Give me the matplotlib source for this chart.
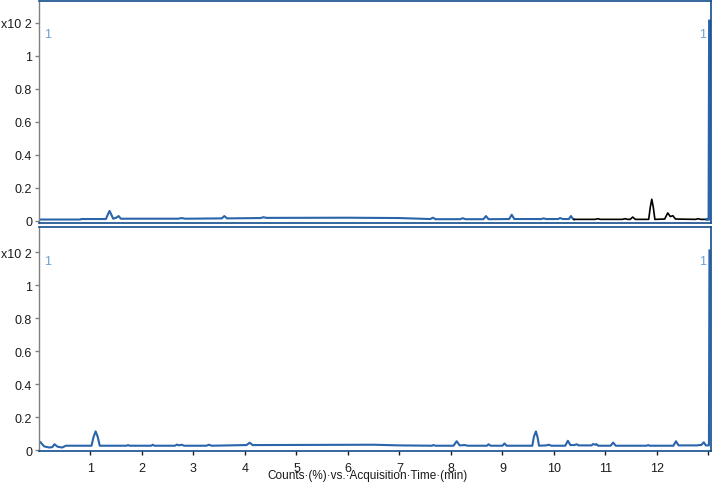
import matplotlib.pyplot as plt

plt.rcParams['font.family'] = ['Liberation Sans', 'DejaVu Sans']

# top trace, blue part (time in min, counts x10^2)
top_t = [0.00, 0.80, 0.82, 1.30, 1.34, 1.37, 1.40, 1.44, 1.50, 1.545, 1.59,
         2.70, 2.77, 2.84, 3.55, 3.60, 3.65, 4.30, 4.36, 4.42, 6.00, 7.00,
         7.60, 7.65, 7.70, 8.18, 8.23, 8.28, 8.63, 8.68, 8.73, 9.13, 9.18,
         9.23, 9.75, 9.80, 9.85, 10.08, 10.12, 10.17, 10.29, 10.33, 10.37, 10.39]
top_v = [0.007, 0.007, 0.010, 0.010, 0.040, 0.059, 0.040, 0.012, 0.018, 0.028, 0.012,
         0.012, 0.016, 0.012, 0.014, 0.028, 0.014, 0.016, 0.021, 0.017, 0.018, 0.016,
         0.010, 0.018, 0.009, 0.009, 0.015, 0.009, 0.009, 0.028, 0.009, 0.010, 0.036,
         0.010, 0.010, 0.014, 0.010, 0.010, 0.016, 0.010, 0.010, 0.028, 0.010, 0.008]

# top trace, black part
blk_t = [10.39, 10.80, 10.85, 10.90, 11.33, 11.38, 11.43, 11.48, 11.53, 11.58,
         11.84, 11.87, 11.90, 11.93, 11.96, 12.15, 12.21, 12.26, 12.31, 12.36,
         12.75, 12.80, 12.85, 12.97]
blk_v = [0.008, 0.008, 0.012, 0.008, 0.008, 0.012, 0.008, 0.008, 0.022, 0.008,
         0.008, 0.080, 0.130, 0.080, 0.008, 0.010, 0.047, 0.025, 0.030, 0.010,
         0.008, 0.012, 0.008, 0.008]

# end spike of the top trace
end_t = [12.97, 13.01, 13.02]
end_v = [0.008, 0.008, 1.21]

# bottom trace
bot_t = [0.03, 0.10, 0.20, 0.26, 0.30, 0.36, 0.45, 0.52, 1.02, 1.06, 1.10, 1.14, 1.18,
         1.70, 1.73, 1.76, 2.18, 2.21, 2.24, 2.64, 2.68, 2.72, 2.77, 2.82, 3.25, 3.30,
         3.35, 4.03, 4.09, 4.15, 6.50, 7.00, 7.63, 7.66, 7.70, 8.05, 8.11, 8.17, 8.27,
         8.32, 8.70, 8.73, 8.77, 9.00, 9.04, 9.08, 9.58, 9.61, 9.65, 9.68, 9.71, 9.85,
         9.90, 9.95, 10.22, 10.27, 10.32, 10.40, 10.44, 10.48, 10.73, 10.76, 10.80,
         10.82, 10.86, 11.10, 11.15, 11.20, 11.80, 11.83, 11.86, 12.32, 12.37, 12.42,
         12.78, 12.82, 12.86, 12.91, 12.95, 13.01, 13.02]
bot_v = [0.047, 0.022, 0.015, 0.018, 0.035, 0.020, 0.015, 0.026, 0.026, 0.080, 0.113,
         0.080, 0.026, 0.026, 0.030, 0.026, 0.026, 0.032, 0.026, 0.026, 0.033, 0.028,
         0.032, 0.026, 0.026, 0.032, 0.026, 0.030, 0.044, 0.030, 0.032, 0.028, 0.026,
         0.030, 0.026, 0.026, 0.053, 0.028, 0.030, 0.026, 0.026, 0.035, 0.026, 0.026,
         0.040, 0.026, 0.026, 0.080, 0.113, 0.080, 0.026, 0.028, 0.032, 0.026, 0.026,
         0.056, 0.030, 0.030, 0.035, 0.028, 0.028, 0.036, 0.032, 0.036, 0.026, 0.026,
         0.045, 0.026, 0.026, 0.030, 0.026, 0.026, 0.053, 0.028, 0.028, 0.030, 0.030,
         0.047, 0.028, 0.028, 1.21]

y_ticks = [0, 0.2, 0.4, 0.6, 0.8, 1.0, 1.2]
y_labels = ['0', '0.2', '0.4', '0.6', '0.8', '1', 'x10 2']
x_ticks = list(range(1, 14))
x_labels = [str(i) for i in range(1, 13)] + ['']

blue = '#2a64aa'
frame = '#124d8e'
W, H = 713, 489

fig = plt.figure(figsize=(W / 100, H / 100), dpi=100)
ax1 = fig.add_axes([39 / W, 1 - 224 / H, 672 / W, 222 / H])
ax2 = fig.add_axes([39 / W, 1 - 452 / H, 672 / W, 224 / H])

ax1.plot(top_t, top_v, color=blue, lw=1.5)
ax1.plot(blk_t, blk_v, color='black', lw=1.2)
ax1.plot(end_t, end_v, color=blue, lw=2)
ax2.plot(bot_t, bot_v, color=blue, lw=1.5)

ax1.set_ylim(-0.014, 1.331)
ax2.set_ylim(-0.006, 1.352)

for ax in (ax1, ax2):
    ax.set_xlim(0, 13.05)
    ax.set_yticks(y_ticks)
    ax.set_yticklabels(y_labels)
    ax.tick_params(axis='y', direction='out', length=3, width=1, color='#808080',
                   labelsize=9, labelcolor='#1a1a1a', pad=2)
    for s in ('top', 'right', 'bottom'):
        ax.spines[s].set_color(frame)
        ax.spines[s].set_linewidth(1.2)
    ax.spines['left'].set_color('#808080')
    ax.spines['left'].set_linewidth(1)

ax1.set_xticks([])
ax2.set_xticks(x_ticks)
ax2.set_xticklabels(x_labels)
ax2.tick_params(axis='x', direction='out', length=3, width=1, color='#1a1a1a',
                labelsize=9, labelcolor='#1a1a1a', pad=5)

# peak labels in the corners
for ax, yf in ((ax1, 0.851), (ax2, 0.848)):
    ax.text(5 / 672, yf, '1', transform=ax.transAxes, color='#6f9fd0',
            fontsize=9, ha='left', va='center')
    ax.text(664 / 672, yf, '1', transform=ax.transAxes, color='#6f9fd0',
            fontsize=9, ha='center', va='center')

fig.text(368 / W, 1 - 476 / H, 'Counts·(%)·vs.·Acquisition·Time·(min)',
         fontsize=8.5, color='#1a1a1a', ha='center', va='center')

fig.savefig('out.png', dpi=100)
